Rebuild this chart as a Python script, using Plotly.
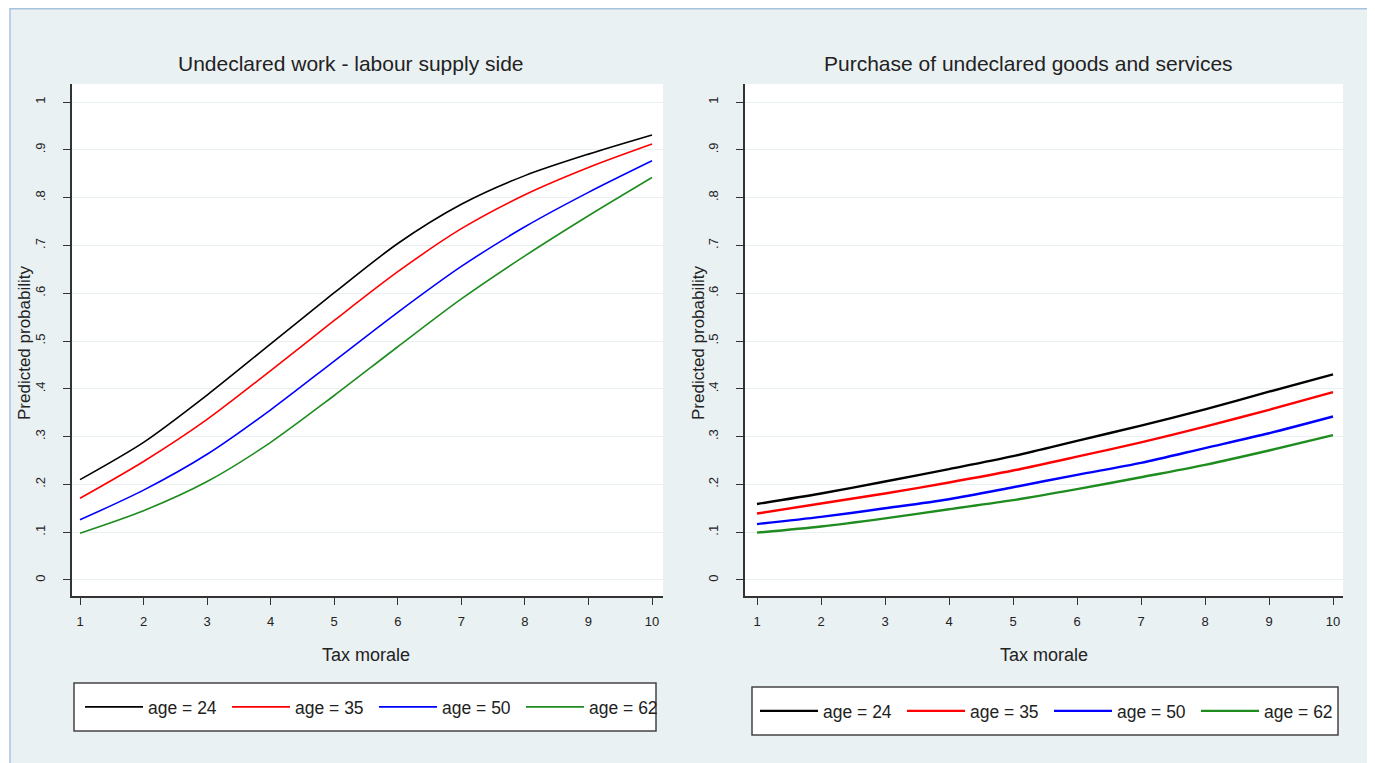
import plotly.graph_objects as go

# The page adds an 8 px body margin; the figure fills the rest of the window.
OFF = 8
W, H = 1375 - OFF, 763 - OFF

# ---------------- data ----------------
tax_morale = [1, 2, 3, 4, 5, 6, 7, 8, 9, 10]
age_labels = ["age = 24", "age = 35", "age = 50", "age = 62"]

# Panel 1: Undeclared work - labour supply side
supply_age24 = [0.210, 0.288, 0.387, 0.494, 0.601, 0.704, 0.786, 0.846, 0.891, 0.931]
supply_age35 = [0.171, 0.248, 0.336, 0.438, 0.543, 0.645, 0.735, 0.806, 0.863, 0.912]
supply_age50 = [0.126, 0.188, 0.263, 0.356, 0.458, 0.560, 0.656, 0.739, 0.811, 0.877]
supply_age62 = [0.098, 0.145, 0.206, 0.288, 0.386, 0.488, 0.588, 0.678, 0.762, 0.842]

# Panel 2: Purchase of undeclared goods and services
demand_age24 = [0.159, 0.181, 0.206, 0.232, 0.259, 0.291, 0.323, 0.357, 0.394, 0.430]
demand_age35 = [0.139, 0.160, 0.181, 0.204, 0.229, 0.258, 0.288, 0.321, 0.356, 0.393]
demand_age50 = [0.117, 0.132, 0.150, 0.169, 0.194, 0.220, 0.245, 0.276, 0.307, 0.342]
demand_age62 = [0.099, 0.112, 0.129, 0.148, 0.167, 0.190, 0.215, 0.241, 0.271, 0.303]

y_tick_vals = [0, 0.1, 0.2, 0.3, 0.4, 0.5, 0.6, 0.7, 0.8, 0.9, 1]
y_tick_text = ["0", ".1", ".2", ".3", ".4", ".5", ".6", ".7", ".8", ".9", "1"]
x_tick_vals = [1, 2, 3, 4, 5, 6, 7, 8, 9, 10]

panel_titles = ["Undeclared work - labour supply side",
                "Purchase of undeclared goods and services"]
x_title = "Tax morale"
y_title = "Predicted probability"

# ---------------- style ----------------
colors = ["#000000", "#ff0000", "#0000ff", "#1e8c1e"]
FONT = "Liberation Sans, Arial, sans-serif"
TXT = "#222222"
BG = "#eaf1f3"
GRID = "#e8f0f2"


def px(x):
    return (x - OFF) / W


def py(y):
    return 1 - (y - OFF) / H


fig = go.Figure()

supply = [supply_age24, supply_age35, supply_age50, supply_age62]
demand = [demand_age24, demand_age35, demand_age50, demand_age62]

for i, (lab, ys) in enumerate(zip(age_labels, supply)):
    fig.add_trace(go.Scatter(x=tax_morale, y=ys, mode="lines", name=lab,
                             line=dict(color=colors[i], width=1.6, shape="spline", smoothing=0.8),
                             xaxis="x", yaxis="y", legend="legend"))
for i, (lab, ys) in enumerate(zip(age_labels, demand)):
    fig.add_trace(go.Scatter(x=tax_morale, y=ys, mode="lines", name=lab,
                             line=dict(color=colors[i], width=2.4, shape="spline", smoothing=0.8),
                             xaxis="x2", yaxis="y2", legend="legend2"))

ydom = [py(596), py(84)]
axis_common = dict(showline=True, linecolor="#333333", linewidth=1.5,
                   ticks="outside", ticklen=7, tickcolor="#333333", tickwidth=1.3,
                   tickfont=dict(family=FONT, size=13, color=TXT), zeroline=False)

fig.update_layout(
    width=W, height=H,
    margin=dict(l=0, r=0, t=0, b=0),
    paper_bgcolor="white",
    plot_bgcolor="rgba(0,0,0,0)",
    showlegend=True,
    xaxis=dict(domain=[px(72), px(663)], range=[0.874, 10.173], tickvals=x_tick_vals,
               showgrid=False, anchor="y", ticklabelstandoff=6, **axis_common),
    yaxis=dict(domain=ydom, range=[-0.0335, 1.0377], tickvals=y_tick_vals,
               ticktext=y_tick_text, tickangle=-90, showgrid=True, gridcolor=GRID,
               gridwidth=1.2, anchor="x", ticklabelstandoff=13, **axis_common),
    xaxis2=dict(domain=[px(745), px(1343)], range=[0.8125, 10.156], tickvals=x_tick_vals,
                showgrid=False, anchor="y2", ticklabelstandoff=6, **axis_common),
    yaxis2=dict(domain=ydom, range=[-0.0335, 1.0377], tickvals=y_tick_vals,
                ticktext=y_tick_text, tickangle=-90, showgrid=True, gridcolor=GRID,
                gridwidth=1.2, anchor="x2", ticklabelstandoff=13, **axis_common),
    legend=dict(orientation="h", x=px(80), xanchor="left", y=py(707), yanchor="middle",
                bgcolor="rgba(0,0,0,0)", borderwidth=0, itemwidth=58, entrywidth=74,
                font=dict(family=FONT, size=17.5, color=TXT), itemclick=False),
    legend2=dict(orientation="h", x=px(755), xanchor="left", y=py(711), yanchor="middle",
                 bgcolor="rgba(0,0,0,0)", borderwidth=0, itemwidth=58, entrywidth=74,
                 font=dict(family=FONT, size=17.5, color=TXT), itemclick=False),
)

shapes = [
    dict(type="rect", xref="paper", yref="paper", x0=px(10), x1=px(1370),
         y0=-0.05, y1=py(8.8), fillcolor=BG, line=dict(color="#a7c2df", width=1.5),
         layer="below"),
    dict(type="rect", xref="x domain", yref="y domain", x0=0, x1=1, y0=0, y1=1,
         fillcolor="white", line=dict(width=0), layer="below"),
    dict(type="rect", xref="x2 domain", yref="y2 domain", x0=0, x1=1, y0=0, y1=1,
         fillcolor="white", line=dict(width=0), layer="below"),
    dict(type="rect", xref="paper", yref="paper", x0=px(74), x1=px(656),
         y0=py(731), y1=py(683), fillcolor="white", line=dict(color="#444444", width=1.5),
         layer="below"),
    dict(type="rect", xref="paper", yref="paper", x0=px(752), x1=px(1338),
         y0=py(735), y1=py(687), fillcolor="white", line=dict(color="#444444", width=1.5),
         layer="below"),
]
fig.update_layout(shapes=shapes)


def note(text, x, y, size, angle=0):
    return dict(text=text, x=px(x), y=py(y), xref="paper", yref="paper",
                xanchor="center", yanchor="middle", textangle=angle,
                showarrow=False, font=dict(family=FONT, size=size, color=TXT))


annotations = [
    note(panel_titles[0], 351, 64, 21),
    note(panel_titles[1], 1028, 64, 21),
    note(x_title, 366, 655, 18),
    note(x_title, 1044, 655, 18),
    note(y_title, 24, 343, 17, -90),
    note(y_title, 698, 343, 17, -90),
]
fig.update_layout(annotations=annotations)

fig.write_html("out.html")
